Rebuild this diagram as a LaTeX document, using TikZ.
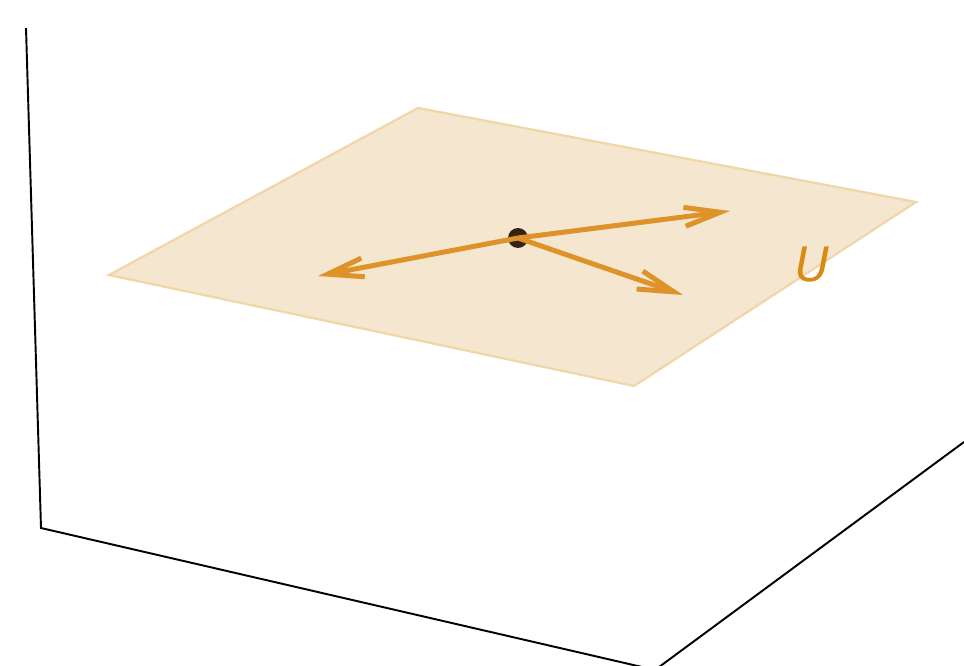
\documentclass[tikz,border=0pt]{standalone}
\usepackage{fontspec}
\newfontfamily\labelfont{DejaVu Sans}
\usetikzlibrary{arrows.meta}
\definecolor{planefill}{HTML}{F5E7CF}
\definecolor{planeedge}{HTML}{F1D6A9}
\definecolor{vecorange}{HTML}{DD9329}
\definecolor{dotbrown}{HTML}{352510}
\definecolor{labelorange}{HTML}{D98A12}
\begin{document}
\begin{tikzpicture}[x=0.02cm, y=-0.02cm,
  vec/.style={vecorange, line width=0.1cm, -{Straight Barb[length=0.72cm, width=0.38cm]}}]
  \useasboundingbox (0,0) rectangle (964,666);
  \clip (0,0) rectangle (964,666);
  % axes box
  \draw[line width=1.1pt] (26,28) -- (41,528) -- (655,670) -- (964,442);
  % the plane U
  \filldraw[fill=planefill, draw=planeedge, line width=1.3pt]
    (418,108) -- (916,202) -- (634,386) -- (109,275) -- cycle;
  \coordinate (o) at (518,238);
  \foreach \x/\y/\n in {730/211/a, 318/276/b, 683/295/c}
    \coordinate (\n) at (\x,\y);
  \fill[dotbrown] (o) circle (0.2cm);
  \foreach \n in {a, b, c} \draw[vec] (o) -- (\n);
  \node[labelorange, font=\labelfont\itshape\fontsize{27}{30}\selectfont] (u) at (813,265) {U};
\end{tikzpicture}
\end{document}
